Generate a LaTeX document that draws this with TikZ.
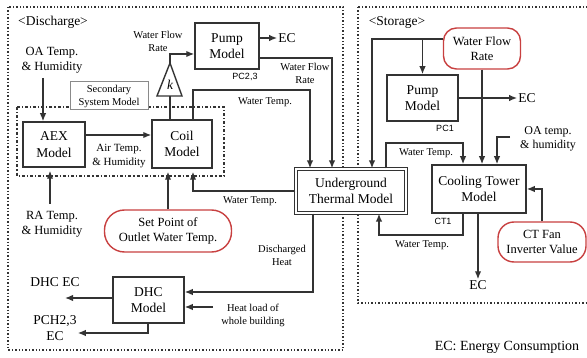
\documentclass[tikz,border=0pt]{standalone}
\usepackage{fontspec}
\setmainfont{Liberation Serif}
\newfontfamily\arialfont{Liberation Sans}
\usetikzlibrary{arrows.meta,positioning}

\definecolor{linec}{HTML}{333333}
\definecolor{redc}{HTML}{C84040}
\definecolor{grayc}{HTML}{8A8A8A}

\newcommand{\boxfont}{\fontsize{13.5}{16.5}\selectfont}
\newcommand{\inpfont}{\fontsize{12.5}{15}\selectfont}
\newcommand{\smallfont}{\fontsize{10.5}{13}\selectfont}
\newcommand{\tagfont}{\arialfont\fontsize{9}{10}\selectfont}

\tikzset{
  model/.style={draw=linec, line width=1.5pt, fill=white, align=center, font=\boxfont, inner sep=0pt},
  given/.style={draw=redc, line width=1.4pt, fill=white, rounded corners=13pt, align=center, font=\inpfont, inner sep=0pt},
  inp/.style={align=center, font=\inpfont, inner sep=1pt},
  lbl/.style={align=center, font=\smallfont, inner sep=1pt},
  tag/.style={font=\tagfont, inner sep=1pt},
  arr/.style={draw=linec, line width=1.4pt, -{Latex[length=8pt,width=6.5pt]}},
  wire/.style={draw=linec, line width=1.4pt},
  region/.style={draw=linec, line width=1.4pt, dotted},
}

\begin{document}
\begin{tikzpicture}[x=1pt,y=-1pt]
\useasboundingbox (0,0) rectangle (587,358);

% regions
\draw[region] (8,7) rectangle (343,350);
\draw[region] (358,7) rectangle (595,303);
\node (discharge) at (53,22) [inp, font=\boxfont] {<Discharge>};
\node (storage) at (397,22) [inp, font=\boxfont] {<Storage>};

% secondary system
\draw[draw=linec, line width=1.2pt, dash dot] (17,107) rectangle (224,176);
\node (sec) at (109,96) [draw=grayc, line width=1pt, fill=white, minimum width=78, minimum height=28, inner sep=0pt, align=center, font=\smallfont] {Secondary\\System Model};

% models
\node (pumpD) at (227,46) [model, minimum width=64, minimum height=46] {Pump\\Model};
\node (aex) at (54,144.5) [model, minimum width=62, minimum height=45] {AEX\\Model};
\node (coil) at (182,144) [model, minimum width=60, minimum height=48] {Coil\\Model};
\node (utm) at (351,191) [model, minimum width=110, minimum height=44, double, double distance=2.2pt, line width=1.2pt] {Underground\\Thermal Model};
\node (dhc) at (148.5,300) [model, minimum width=71, minimum height=46] {DHC\\Model};
\node (pumpS) at (422.5,98) [model, minimum width=71, minimum height=46] {Pump\\Model};
\node (ct) at (479,189) [model, minimum width=94, minimum height=48] {Cooling Tower\\Model};

% given values
\node (spt) at (168,231) [given, rounded corners=20pt, minimum width=127, minimum height=42] {Set Point of\\Outlet Water Temp.};
\node (wfr) at (482,48.5) [given, minimum width=77, minimum height=41] {Water Flow\\Rate};
\node (ctfan) at (542,242) [given, rounded corners=16pt, minimum width=88, minimum height=40] {CT Fan\\Inverter Value};

% gain
\coordinate (ktop) at (170,63);
\coordinate (kbot) at (170,96);
\draw[wire, fill=white] (ktop) -- (182,96) -- (157,96) -- cycle;
\node (k) at (170,85) [font=\itshape\boxfont, inner sep=0pt] {k};

% texts
\node (oa) at (52,60) [inp] {OA Temp.\\\& Humidity};
\node (ra) at (52,224) [inp] {RA Temp.\\\& Humidity};
\node (wfrD) at (158,41) [lbl] {Water Flow\\Rate};
\node (wfrD2) at (305,73) [lbl] {Water Flow\\Rate};
\node (air) at (119,156) [lbl, font=\fontsize{11}{13.5}\selectfont] {Air Temp.\\\& Humidity};
\node (wt1) at (265,102) [lbl] {Water Temp.};
\node (wt2) at (250,201) [lbl] {Water Temp.};
\node (dh) at (282,255) [lbl] {Discharged\\Heat};
\node (hl) at (253,315) [lbl] {Heat load of\\whole building};
\node (dhcec) at (55,282) [inp, font=\boxfont] {DHC EC};
\node (pch) at (55,328) [inp, font=\boxfont] {PCH2,3\\EC};
\node (ecD) at (287,38) [inp, font=\boxfont] {EC};
\node (ecS) at (527,98) [inp, font=\boxfont] {EC};
\node (ecct) at (478,285) [inp, font=\boxfont] {EC};
\node (oas) at (548,139) [inp, font=\fontsize{12}{14.5}\selectfont] {OA temp.\\\& humidity};
\node (wt3) at (426,153) [lbl] {Water Temp.};
\node (wt4) at (422,245) [lbl] {Water Temp.};
\node (pc23) at (245,77) [tag] {PC2,3};
\node (pc1) at (445,128) [tag] {PC1};
\node (ct1) at (443,221) [tag] {CT1};
\node (legend) at (507,347) [inp, font=\fontsize{14}{16}\selectfont] {EC: Energy Consumption};

\coordinate (oa-a) at (43,78);
\coordinate (ra-a) at (50,204);
\coordinate (dhcec-a) at (65,298);
\coordinate (oas-a) at (510,137);

% discharge side
\draw[arr] (oa-a) -- (oa-a |- aex.north);
\draw[arr, shorten >=3pt] (ra-a) -- (ra-a |- aex.south);
\draw[arr] (aex.east |- 0,135) -- (coil.west |- 0,135);
\draw[wire] (coil.north -| kbot) -- (kbot);
\draw[arr] (ktop) |- (pumpD.west |- 0,54);
\draw[arr] (pumpD.east |- ecD) -- (ecD.west);
\draw[arr] (pumpD.east |- 0,58) -| (utm.north -| 332,0);
\draw[arr] (coil.north -| 193,0) -- (193,90) -| (utm.north -| 310,0);
\draw[arr, shorten >=3pt] (utm.west) -| (coil.south -| 193,0);
\draw[arr, shorten >=3pt] (spt.north) -- (coil.south -| spt.north);
\draw[arr] (utm.south -| 313,0) |- (dhc.east |- 0,292);
\draw[arr] (213,307) -- (dhc.east |- 0,307);
\draw[arr] (dhc.west |- dhcec-a) -- (dhcec-a);
\draw[arr] (dhc.south -| 148,0) |- (pch.east |- 0,333);

% storage side
\draw[arr] (wfr.west |- 0,39) -| (utm.north -| 372,0);
\draw[arr] (pumpS.north |- 0,39) -- (pumpS.north);
\draw[arr] (wfr.south) -- (ct.north -| wfr.south);
\draw[arr] (pumpS.east) -- (ecS.west);
\draw[arr] (oas-a) -| (ct.north -| 497,0);
\draw[arr] (utm.north -| 386,0) -- (386,143) -| (ct.north -| 463,0);
\draw[arr] (ct.south -| 463,0) -- (463,235) -| (utm.south -| 379,0);
\draw[arr] (ct.south -| 478,0) -- (ecct.north);
\draw[arr] (ctfan.north) |- (ct.east);
\end{tikzpicture}
\end{document}
